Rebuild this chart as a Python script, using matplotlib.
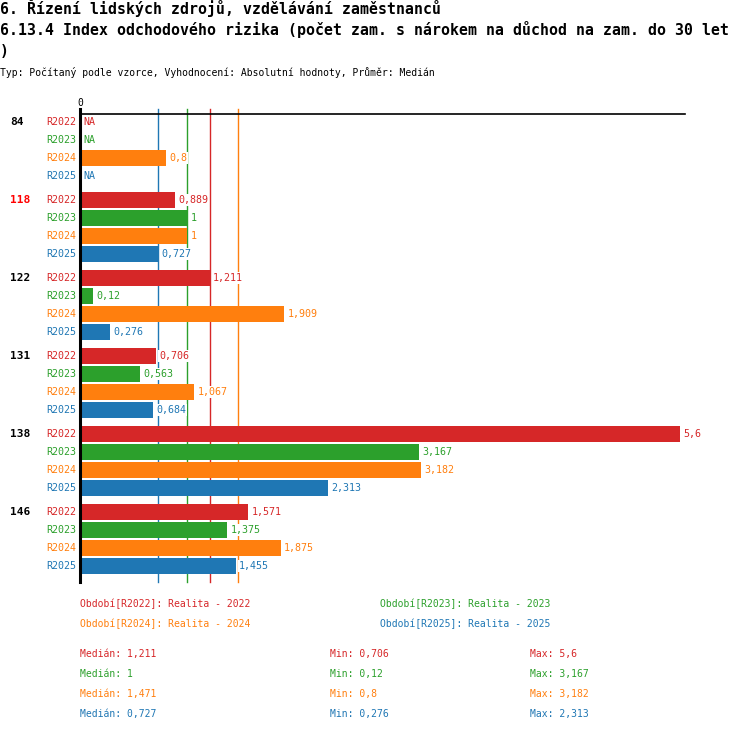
import numpy as np
import matplotlib
matplotlib.use("Agg")
import matplotlib.pyplot as plt
import matplotlib.transforms as mtransforms

# ───────── data ─────────
groups = ["84", "118", "122", "131", "138", "146"]
periods = ["R2022", "R2023", "R2024", "R2025"]
nan = np.nan
r2022 = [nan, 0.889, 1.211, 0.706, 5.6, 1.571]
r2023 = [nan, 1, 0.12, 0.563, 3.167, 1.375]
r2024 = [0.8, 1, 1.909, 1.067, 3.182, 1.875]
r2025 = [nan, 0.727, 0.276, 0.684, 2.313, 1.455]
series = [r2022, r2023, r2024, r2025]
legend_labels = ["Období[R2022]: Realita - 2022", "Období[R2023]: Realita - 2023",
                 "Období[R2024]: Realita - 2024", "Období[R2025]: Realita - 2025"]
highlight_group = "118"

colors = ["#d62728", "#2ca02c", "#ff7f0e", "#1f77b4"]
W, H = 750, 732
MONO = "DejaVu Sans Mono"
WHITE_BOX = dict(facecolor="white", edgecolor="none", pad=0.6)


def fmt(v):
    return f"{round(v, 3):g}".replace(".", ",")


def ftext(x, y, s, **kw):
    # text placed in figure pixel coordinates (y from top)
    fig.text(x / W, 1 - y / H, s, va="center", family=MONO, **kw)


fig = plt.figure(figsize=(W / 100, H / 100), dpi=100)

# axes: x=0 at 80px, 1 unit = 107.1px; y in pixel rows from the top
ax_left, ax_right, ax_top, ax_bot = 80, 685, 114, 582
ax = fig.add_axes([ax_left / W, 1 - ax_bot / H, (ax_right - ax_left) / W, (ax_bot - ax_top) / H])
ax.set_xlim(0, (ax_right - ax_left) / 107.1)
ax.set_ylim(ax_bot, ax_top)
ax.axis("off")

# titles
ftext(0, 8, "6. Řízení lidských zdrojů, vzdělávání zaměstnanců", fontsize=10.75, weight="bold")
ftext(0, 30, "6.13.4 Index odchodového rizika (počet zam. s nárokem na důchod na zam. do 30 let",
      fontsize=10.75, weight="bold")
ftext(0, 52, ")", fontsize=10.75, weight="bold")
ftext(0, 73, "Typ: Počítaný podle vzorce, Vyhodnocení: Absolutní hodnoty, Průměr: Medián", fontsize=7.0)

# medians / min / max
medians = [np.nanmedian(s) for s in series]
mins = [np.nanmin(s) for s in series]
maxs = [np.nanmax(s) for s in series]

# median lines
for m, c in zip(medians, colors):
    ax.plot([m, m], [109, ax_bot], color=c, lw=1, clip_on=False, zorder=1)

# axis lines
ax.plot([0, 0], [109, ax_bot], color="black", lw=2.2, clip_on=False, zorder=4)
ax.plot([0, ax.get_xlim()[1]], [ax_top, ax_top], color="black", lw=1.2, clip_on=False, zorder=4)
ax.annotate("0", xy=(0, 103), ha="center", va="center", fontsize=7, family=MONO,
            annotation_clip=False)

blend = mtransforms.blended_transform_factory(fig.transFigure, ax.transData)
for g, name in enumerate(groups):
    y0 = 122 + 78 * g
    ax.text(10 / W, y0, name, transform=blend, ha="left", va="center", family=MONO,
            fontsize=8, weight="bold", color="#ff0000" if name == highlight_group else "black")
    for r, (per, s, c) in enumerate(zip(periods, series, colors)):
        y = y0 + 18 * r
        v = s[g]
        ax.annotate(per, xy=(0, y), xytext=(-2.5, 0), textcoords="offset points",
                    ha="right", va="center", color=c, fontsize=7.2, family=MONO,
                    annotation_clip=False)
        if np.isnan(v):
            ax.annotate("NA", xy=(0, y), xytext=(2.5, 0), textcoords="offset points",
                        ha="left", va="center", color=c, fontsize=7.2, family=MONO, zorder=5)
            continue
        ax.barh(y, v, height=16, color=c, zorder=2)
        ax.annotate(fmt(v), xy=(v, y), xytext=(2.4, 0), textcoords="offset points",
                    ha="left", va="center", color=c, fontsize=7.2, family=MONO,
                    bbox=WHITE_BOX, annotation_clip=False, zorder=5)

# legend
for i, (lab, c) in enumerate(zip(legend_labels, colors)):
    ftext(80 + 300 * (i % 2), 604 + 20 * (i // 2), lab, fontsize=7.0, color=c)

# stats
for i, c in enumerate(colors):
    y = 654 + 20 * i
    ftext(80, y, "Medián: " + fmt(medians[i]), fontsize=7.0, color=c)
    ftext(330, y, "Min: " + fmt(mins[i]), fontsize=7.0, color=c)
    ftext(530, y, "Max: " + fmt(maxs[i]), fontsize=7.0, color=c)

fig.savefig("out.png", dpi=100)
